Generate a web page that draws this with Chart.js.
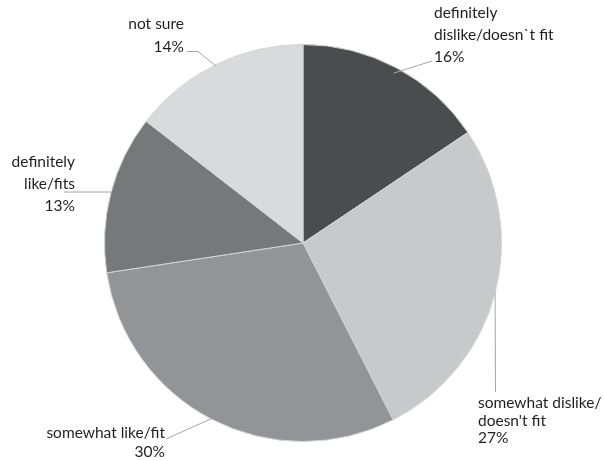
<!DOCTYPE html>
<html>
<head>
<meta charset="utf-8">
<script src="https://cdn.jsdelivr.net/npm/chart.js@4.4.1/dist/chart.umd.min.js"></script>
<style>
  html, body { margin: 0; padding: 0; background: #ffffff; }
  #wrap { width: 604px; height: 461px; position: relative; }
</style>
</head>
<body>
<div id="wrap"><canvas id="c" width="604" height="461"></canvas></div>
<script>
// ---- data ----
const categories = [
  ["definitely", "dislike/doesn`t fit"],
  ["somewhat dislike/", "doesn't fit"],
  ["somewhat like/fit"],
  ["definitely", "like/fits"],
  ["not sure"]
];
// slice sizes (labels show rounded percentages)
const values = [15.6, 26.9, 30.1, 12.9, 14.5];
const percentLabels = ["16%", "27%", "30%", "13%", "14%"];
const sliceColors = ["#4b4c4e", "#c8c9ca", "#939497", "#77787a", "#d9dadb"];

// label placement (text anchor, alignment, line height, leader-line path)
const labelLayout = [
  { x: 434, y: 13,  lh: 22,   align: "left",  path: [[432, 61]], inset: 6 },
  { x: 478, y: 403, lh: 17.5, align: "left",  path: [["edgeX", 392]], inset: 0 },
  { x: 165, y: 433, lh: 19,   align: "right", path: [[166, 439]], inset: 2 },
  { x: 75,  y: 162, lh: 22,   align: "right", path: [[64, 192]], inset: 0, horizontalY: 192 },
  { x: 184, y: 24,  lh: 23,   align: "right", path: [[198, 51.5], [187, 51.5]], inset: 2 }
];

const labelPlugin = {
  id: "pieLabels",
  afterDraw(chart) {
    const ctx = chart.ctx;
    const meta = chart.getDatasetMeta(0);
    ctx.save();
    ctx.font = "15.5px Lato, 'Open Sans', sans-serif";
    ctx.textBaseline = "middle";
    ctx.fillStyle = "#1f1f1f";
    meta.data.forEach((arc, i) => {
      const p = arc.getProps(["x", "y", "startAngle", "endAngle", "outerRadius"], true);
      const mid = (p.startAngle + p.endAngle) / 2;
      const L = labelLayout[i];
      let r = p.outerRadius - L.inset;
      let sx = p.x + Math.cos(mid) * r;
      let sy = p.y + Math.sin(mid) * r;
      if (L.horizontalY !== undefined) {
        sy = L.horizontalY;
        const dy = sy - p.y;
        const dx = Math.sqrt(Math.max(p.outerRadius * p.outerRadius - dy * dy, 0));
        sx = p.x + (Math.cos(mid) < 0 ? -dx : dx);
      }
      ctx.strokeStyle = "#a6a6a6";
      ctx.lineWidth = 1;
      ctx.beginPath();
      ctx.moveTo(sx, sy);
      L.path.forEach(pt => {
        const px = pt[0] === "edgeX" ? Math.round(sx) + 0.5 : pt[0];
        ctx.lineTo(px, pt[1]);
      });
      ctx.stroke();
      const lines = categories[i].concat([percentLabels[i]]);
      ctx.textAlign = L.align;
      lines.forEach((t, k) => ctx.fillText(t, L.x, L.y + k * L.lh));
    });
    ctx.restore();
  }
};

new Chart(document.getElementById("c"), {
  type: "pie",
  data: {
    labels: categories.map(c => c.join(" ")),
    datasets: [{
      data: values,
      backgroundColor: sliceColors,
      borderColor: "#d4d4d4",
      borderWidth: 1
    }]
  },
  options: {
    responsive: false,
    animation: false,
    layout: { padding: { top: 44, bottom: 19, left: 104, right: 102 } },
    plugins: { legend: { display: false }, tooltip: { enabled: false } }
  },
  plugins: [labelPlugin]
});
</script>
</body>
</html>
